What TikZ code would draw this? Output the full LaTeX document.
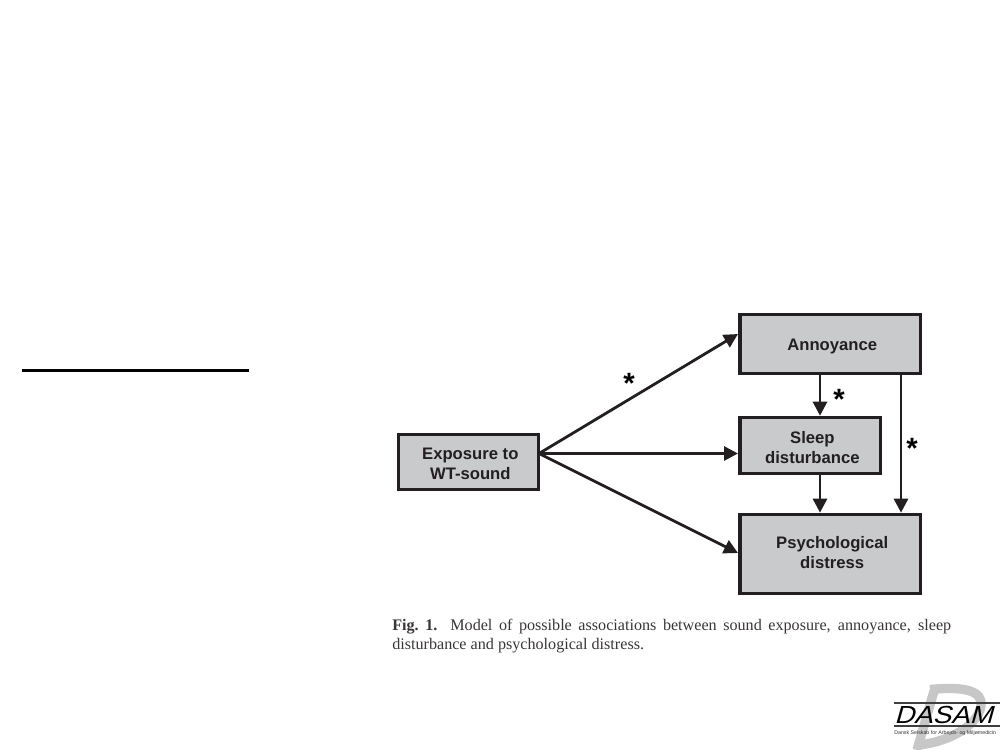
\documentclass[tikz,border=0pt]{standalone}
\usepackage{fontspec}
\setmainfont{Liberation Sans}
\newfontfamily\capfont{Liberation Serif}
\newfontfamily\logofont[FakeSlant=0.28,FakeStretch=1.12]{Liberation Sans}
\usetikzlibrary{arrows.meta}
\definecolor{boxfill}{HTML}{C8CACC}
\definecolor{ink}{HTML}{231F20}
\newcommand{\boxtext}[2]{\raisebox{#1}[0pt][0pt]{\hspace*{3pt}\begin{tabular}{@{}c@{}}#2\end{tabular}}}
\tikzset{
  x=0.75pt,y=-0.75pt,
  model/.style={draw=ink,line width=2.3pt,fill=boxfill,minimum width=#1,inner sep=0pt,font=\fontsize{12.5}{15}\selectfont\bfseries,text=ink},
  link/.style={draw=ink,line width=2.1pt,-{Triangle[length=10.5pt,width=10.5pt]}},
  star/.style={font=\fontsize{22}{22}\selectfont\bfseries,inner sep=0pt,text=black},
}
\begin{document}
\begin{tikzpicture}
\useasboundingbox (0,0) rectangle (1000,750);
\coordinate (ruleL) at (22,370.5);
\coordinate (ruleR) at (249,370.5);
\draw[black,line width=2.1pt] (ruleL) -- (ruleR);

\coordinate (o) at (539,453.5);
\coordinate (annIn) at (738,334);
\coordinate (slpIn) at (738,453.5);
\coordinate (psyIn) at (738,553);
\draw[link] (o) -- (annIn);
\draw[link] (o) -- (slpIn);
\draw[link] (o) -- (psyIn);

\node[model=105.2pt,minimum height=41.2pt] (exp) at (468.3,461.7) {\boxtext{-6pt}{Exposure to\\WT-sound}};
\node[model=135.3pt,minimum height=44.2pt] (ann) at (830.2,343.7) {\boxtext{-5.2pt}{Annoyance}};
\node[model=105.6pt,minimum height=41.9pt] (slp) at (810.4,445.2) {\boxtext{-6.3pt}{Sleep\\disturbance}};
\node[model=135.3pt,minimum height=59.7pt] (psy) at (830.2,554) {\boxtext{-3.2pt}{Psychological\\distress}};

\draw[link] (ann.south -| 820,0) -- (slp.north -| 820,0);
\draw[link] (slp.south -| 820,0) -- (psy.north -| 820,0);
\draw[link] (ann.south -| 901,0) -- (psy.north -| 901,0);

\node[star] (s1) at (629,383) {*};
\node[star] (s2) at (839,399) {*};
\node[star] (s3) at (912,448) {*};

\node[anchor=north west,inner sep=0pt,align=left,font=\capfont\fontsize{12.1}{14.2}\selectfont,text=ink!90!white] (cap) at (392,619)
{\makebox[419.25pt][s]{\textbf{Fig.~1.} Model of possible associations between sound exposure, annoyance, sleep}\\disturbance and psychological distress.};

% logo
\begin{scope}[draw=black!22,line cap=butt]
\draw[line width=7pt] (934,691) -- (917,750);
\draw[line width=7pt] (930,689.5) .. controls (965,686) and (983,691) .. (981,706) .. controls (978,725) and (950,742) .. (918,745);
\end{scope}
\fill[black!75] (894,702) rectangle (1000,704);
\fill[black!75] (894,725) rectangle (1000,726.5);
\node[anchor=west,inner sep=0pt,font=\logofont\fontsize{18.5}{20}\selectfont,text=black] (logo) at (894,715) {DASAM};
\node[anchor=west,inner sep=0pt,font=\fontsize{3.95}{5}\selectfont,text=black!80] (logosub) at (894,733) {Dansk Selskab for Arbejds- og Miljømedicin};
\end{tikzpicture}
\end{document}
